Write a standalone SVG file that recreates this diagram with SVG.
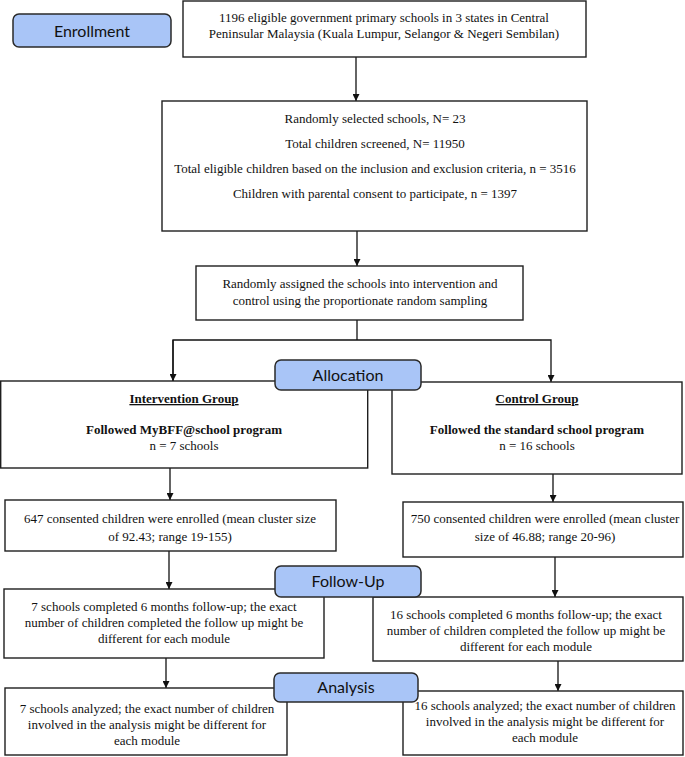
<svg xmlns="http://www.w3.org/2000/svg" width="685" height="757" viewBox="0 0 685 757">
<defs>
<style>
.box{fill:#fff;stroke:#1e1e1e;stroke-width:1.4}
.pill{fill:#a9c5f7;stroke:#2a2a2a;stroke-width:1.5}
.t{font-family:"Liberation Serif","Times New Roman",serif;font-size:13px;fill:#111;text-anchor:middle}
.b{font-weight:bold}
.u{text-decoration:underline}
.p{font-family:Lato,"Open Sans",sans-serif;font-size:16px;text-anchor:middle;fill:#111}
.c{stroke:#111;stroke-width:1.3;fill:none}
</style>
<marker id="ah" viewBox="0 0 10 10" refX="10" refY="5" markerWidth="7" markerHeight="7" markerUnits="userSpaceOnUse" orient="auto">
<path d="M0,0 L10,5 L0,10 z" fill="#111"/>
</marker>
</defs>
<rect width="685" height="757" fill="#fff"/>

<g id="connectors">
<line class="c" x1="356" y1="57" x2="356" y2="101" marker-end="url(#ah)"/>
<line class="c" x1="357" y1="231" x2="357" y2="266" marker-end="url(#ah)"/>
<polyline class="c" points="357,320 357,340"/>
<polyline class="c" points="173,381 173,340 551,340 551,382" marker-end="url(#ah)"/>
<line class="c" x1="173" y1="340" x2="173" y2="381" marker-end="url(#ah)"/>
<line class="c" x1="170" y1="468" x2="170" y2="500" marker-end="url(#ah)"/>
<line class="c" x1="553" y1="474" x2="553" y2="502" marker-end="url(#ah)"/>
<line class="c" x1="169" y1="551" x2="169" y2="589" marker-end="url(#ah)"/>
<line class="c" x1="555" y1="557" x2="555" y2="597" marker-end="url(#ah)"/>
<line class="c" x1="166" y1="658" x2="166" y2="688" marker-end="url(#ah)"/>
<line class="c" x1="558" y1="661" x2="558" y2="691" marker-end="url(#ah)"/>
</g>

<g id="n-top">
<rect class="box" x="183" y="1" width="403" height="56"/>
<text class="t" x="384" y="22">1196 eligible government primary schools in 3 states in Central</text>
<text class="t" x="384" y="38">Peninsular Malaysia (Kuala Lumpur, Selangor &amp; Negeri Sembilan)</text>
</g>

<g id="n-screen">
<rect class="box" x="162" y="101" width="425" height="130"/>
<text class="t" x="375" y="123">Randomly selected schools, N= 23</text>
<text class="t" x="375" y="148">Total children screened, N= 11950</text>
<text class="t" x="375" y="173">Total eligible children based on the inclusion and exclusion criteria, n = 3516</text>
<text class="t" x="375" y="198">Children with parental consent to participate, n = 1397</text>
</g>

<g id="n-assign">
<rect class="box" x="196" y="266" width="327" height="54"/>
<text class="t" x="360" y="288">Randomly assigned the schools into intervention and</text>
<text class="t" x="360" y="305">control using the proportionate random sampling</text>
</g>

<g id="n-intervention">
<rect class="box" x="0.7" y="381" width="367" height="87"/>
<text class="t b u" x="184" y="403">Intervention Group</text>
<text class="t b" x="184" y="434">Followed MyBFF@school program</text>
<text class="t" x="184" y="450">n = 7 schools</text>
</g>

<g id="n-control">
<rect class="box" x="392" y="382" width="290" height="92"/>
<text class="t b u" x="537" y="403">Control Group</text>
<text class="t b" x="537" y="434">Followed the standard school program</text>
<text class="t" x="537" y="450">n = 16 schools</text>
</g>

<g id="n-enrol-int">
<rect class="box" x="5" y="500" width="331" height="51"/>
<text class="t" x="170" y="523">647 consented children were enrolled (mean cluster size</text>
<text class="t" x="170" y="541">of 92.43; range 19-155)</text>
</g>

<g id="n-enrol-ctl">
<rect class="box" x="403" y="502" width="280" height="55"/>
<text class="t" x="545" y="523">750 consented children were enrolled (mean cluster</text>
<text class="t" x="545" y="541">size of 46.88; range 20-96)</text>
</g>

<g id="n-fu-int">
<rect class="box" x="4" y="589" width="320" height="69"/>
<text class="t" x="164" y="611">7 schools completed 6 months follow-up; the exact</text>
<text class="t" x="164" y="627">number of children completed the follow up might be</text>
<text class="t" x="164" y="643">different for each module</text>
</g>

<g id="n-fu-ctl">
<rect class="box" x="373" y="597" width="310" height="64"/>
<text class="t" x="526" y="619">16 schools completed 6 months follow-up; the exact</text>
<text class="t" x="526" y="635">number of children completed the follow up might be</text>
<text class="t" x="526" y="651">different for each module</text>
</g>

<g id="n-an-int">
<rect class="box" x="5" y="688" width="282" height="67"/>
<text class="t" x="147" y="713">7 schools analyzed; the exact number of children</text>
<text class="t" x="147" y="729">involved in the analysis might be different for</text>
<text class="t" x="147" y="745">each module</text>
</g>

<g id="n-an-ctl">
<rect class="box" x="403" y="691" width="280" height="64"/>
<text class="t" x="545" y="710">16 schools analyzed; the exact number of children</text>
<text class="t" x="545" y="726">involved in the analysis might be different for</text>
<text class="t" x="545" y="742">each module</text>
</g>

<g id="p-enrollment">
<rect class="pill" x="13" y="14" width="158" height="33" rx="6"/>
<text class="p" x="92" y="37">Enrollment</text>
</g>
<g id="p-allocation">
<rect class="pill" x="275" y="360" width="146" height="30" rx="6"/>
<text class="p" x="348" y="381">Allocation</text>
</g>
<g id="p-followup">
<rect class="pill" x="275" y="566" width="146" height="31" rx="6"/>
<text class="p" x="348" y="587">Follow-Up</text>
</g>
<g id="p-analysis">
<rect class="pill" x="274" y="673" width="144" height="29" rx="6"/>
<text class="p" x="346" y="693">Analysis</text>
</g>
</svg>
